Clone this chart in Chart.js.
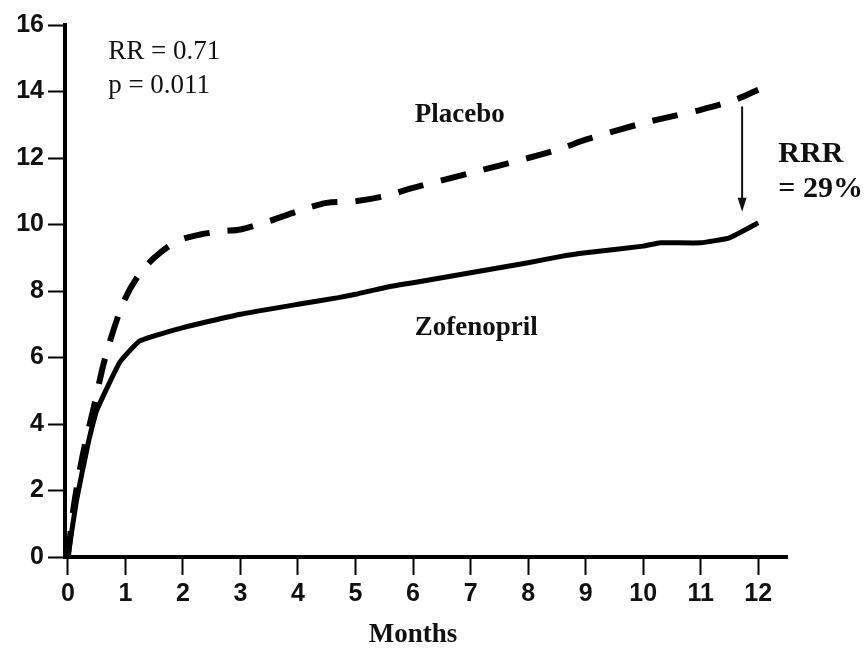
<!DOCTYPE html>
<html>
<head>
<meta charset="utf-8">
<script src="https://cdn.jsdelivr.net/npm/chart.js@4/dist/chart.umd.min.js"></script>
<style>
  html, body { margin: 0; padding: 0; background: #fff; }
  #wrap { width: 864px; height: 652px; }
</style>
</head>
<body>
<div id="wrap"><canvas id="chart" width="864" height="652"></canvas></div>
<script>
// --- data ---
const placeboMonths = [0, 0.1, 0.25, 0.45, 0.65, 0.95, 1.2, 1.5, 1.9, 2.3, 2.7, 3.0, 3.5, 4.0, 4.5, 5.0, 5.5, 6.0, 7.0, 8.0, 8.6, 9.0, 10.0, 10.5, 11.0, 11.6, 12.0];
const placeboValues = [0, 1.5, 3.0, 4.5, 6.0, 7.6, 8.4, 9.0, 9.5, 9.7, 9.8, 9.85, 10.1, 10.4, 10.65, 10.7, 10.85, 11.1, 11.55, 12.0, 12.3, 12.55, 13.05, 13.25, 13.45, 13.75, 14.05];

const zofenoprilMonths = [0, 0.15, 0.35, 0.5, 0.9, 1.25, 2.0, 3.0, 4.0, 4.7, 5.0, 5.5, 6.0, 7.0, 8.0, 8.6, 9.0, 10.0, 10.3, 11.0, 11.5, 12.0];
const zofenoprilValues = [0, 1.7, 3.4, 4.4, 5.85, 6.5, 6.9, 7.3, 7.6, 7.8, 7.9, 8.1, 8.25, 8.55, 8.85, 9.05, 9.15, 9.35, 9.45, 9.45, 9.6, 10.05];

const xTickValues = [0, 1, 2, 3, 4, 5, 6, 7, 8, 9, 10, 11, 12];
const yTickValues = [0, 2, 4, 6, 8, 10, 12, 14, 16];

// text notes, placed in data units
const notes = [
  { text: 'RR = 0.71', x: 0.7, y: 15.2, bold: false, size: 27 },
  { text: 'p = 0.011', x: 0.7, y: 14.17, bold: false, size: 27 },
  { text: 'Placebo', x: 6.03, y: 13.3, bold: true, size: 27 },
  { text: 'Zofenopril', x: 6.03, y: 6.9, bold: true, size: 27 },
  { text: 'RRR', x: 12.35, y: 12.1, bold: true, size: 30 },
  { text: '= 29%', x: 12.35, y: 11.05, bold: true, size: 30 }
];
// arrow between the two curves near month 12
const arrowX = 11.72;
const arrowFrom = 13.55;
const arrowTo = 10.38;
// x axis title sits a bit left of the plot centre
const xTitle = { text: 'Months', x: 6.0, y: 635 };

const toPoints = (xs, ys) => xs.map((x, i) => ({ x: x, y: ys[i] }));

// draw notes, arrow and axis title
const notesPlugin = {
  id: 'notes',
  afterDatasetsDraw(chart) {
    const ctx = chart.ctx;
    const xs = chart.scales.x, ys = chart.scales.y;
    ctx.save();
    ctx.fillStyle = '#111';
    ctx.textBaseline = 'middle';
    ctx.textAlign = 'left';
    notes.forEach(n => {
      ctx.font = (n.bold ? 'bold ' : '') + n.size + 'px "Liberation Serif", "Times New Roman", serif';
      ctx.fillText(n.text, xs.getPixelForValue(n.x), ys.getPixelForValue(n.y));
    });

    ctx.textAlign = 'center';
    ctx.font = 'bold 27px "Liberation Serif", "Times New Roman", serif';
    ctx.fillText(xTitle.text, xs.getPixelForValue(xTitle.x), xTitle.y);

    const ax = xs.getPixelForValue(arrowX);
    const y1 = ys.getPixelForValue(arrowFrom);
    const y2 = ys.getPixelForValue(arrowTo);
    ctx.strokeStyle = '#111';
    ctx.lineWidth = 2;
    ctx.beginPath();
    ctx.moveTo(ax, y1);
    ctx.lineTo(ax, y2 - 10);
    ctx.stroke();
    ctx.beginPath();
    ctx.moveTo(ax - 4.5, y2 - 14);
    ctx.lineTo(ax + 4.5, y2 - 14);
    ctx.lineTo(ax, y2);
    ctx.closePath();
    ctx.fill();
    ctx.restore();
  }
};

const tickFont = { family: '"Liberation Sans", Arial, sans-serif', size: 25, weight: 'bold' };

new Chart(document.getElementById('chart'), {
  type: 'line',
  data: {
    datasets: [
      {
        label: 'Placebo',
        data: toPoints(placeboMonths, placeboValues),
        borderColor: '#000',
        borderWidth: 6,
        borderDash: [26, 18],
        borderCapStyle: 'butt',
        pointRadius: 0,
        tension: 0.3,
        clip: false
      },
      {
        label: 'Zofenopril',
        data: toPoints(zofenoprilMonths, zofenoprilValues),
        borderColor: '#000',
        borderWidth: 5,
        pointRadius: 0,
        tension: 0.12,
        clip: false
      }
    ]
  },
  options: {
    responsive: false,
    animation: false,
    layout: { padding: { left: 0, top: 25, right: 77, bottom: 0 } },
    plugins: {
      legend: { display: false },
      tooltip: { enabled: false }
    },
    scales: {
      x: {
        type: 'linear',
        min: -0.05,
        max: 12.5,
        afterBuildTicks(scale) { scale.ticks = xTickValues.map(v => ({ value: v })); },
        afterFit(scale) { scale.height = 95; },
        border: { display: true, color: '#000', width: 4 },
        grid: { drawOnChartArea: false, drawTicks: true, tickLength: 18, tickWidth: 2, tickColor: '#000' },
        ticks: { color: '#111', font: tickFont, padding: 4, maxRotation: 0 },
        title: { display: false }
      },
      y: {
        min: 0,
        max: 16,
        afterBuildTicks(scale) { scale.ticks = yTickValues.map(v => ({ value: v })); },
        afterFit(scale) { scale.width = 65; },
        border: { display: true, color: '#000', width: 4 },
        grid: { drawOnChartArea: false, drawTicks: true, tickLength: 17, tickWidth: 2, tickColor: '#000' },
        ticks: { color: '#111', font: tickFont, padding: 4 }
      }
    }
  },
  plugins: [notesPlugin]
});
</script>
</body>
</html>
